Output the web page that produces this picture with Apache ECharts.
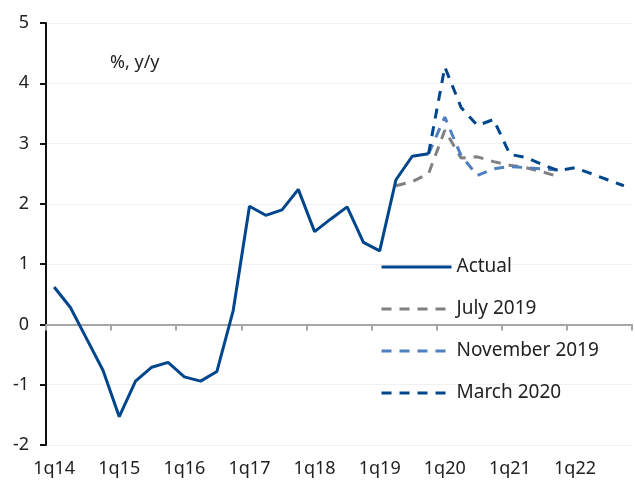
<!DOCTYPE html>
<html>
<head>
    <meta charset="UTF-8">
    <title>%, y/y</title>
    <style>
        html, body {
            margin: 0;
            padding: 0;
            width: 100%;
            height: 100%;
            overflow: hidden;
            background: #fff;
        }
        #main {
            width: 635px;
            height: 481px;
        }
    </style>
    <script src="https://cdn.jsdelivr.net/npm/echarts@6/dist/echarts.min.js"></script>
</head>
<body>
    <div id="main"></div>
    <script>
        // quarters 1q14 .. 4q22
        const quarters = [];
        for (let y = 14; y <= 22; y++) {
            for (let q = 1; q <= 4; q++) quarters.push(q + 'q' + y);
        }

        // null = no value for that quarter
        const actual = [0.62, 0.28, -0.24, -0.76, -1.53, -0.94, -0.71, -0.63, -0.87, -0.94, -0.78, 0.23,
            1.96, 1.81, 1.90, 2.24, 1.54, 1.75, 1.95, 1.36, 1.22, 2.40, 2.79, 2.83,
            null, null, null, null, null, null, null, null, null, null, null, null];
        const july2019 = [null, null, null, null, null, null, null, null, null, null, null, null,
            null, null, null, null, null, null, null, null, null, 2.30, 2.37, 2.50,
            3.22, 2.76, 2.78, 2.70, 2.64, 2.60, 2.53, 2.45, null, null, null, null];
        const nov2019 = [null, null, null, null, null, null, null, null, null, null, null, null,
            null, null, null, null, null, null, null, null, null, null, null, 2.83,
            3.44, 2.80, 2.47, 2.58, 2.62, 2.60, 2.58, 2.56, null, null, null, null];
        const mar2020 = [null, null, null, null, null, null, null, null, null, null, null, null,
            null, null, null, null, null, null, null, null, null, null, null, 2.83,
            4.27, 3.60, 3.30, 3.40, 2.82, 2.77, 2.65, 2.55, 2.60, 2.50, 2.40, 2.30];

        const font = 'Noto Sans';
        const textColor = '#222';

        const chart = echarts.init(document.getElementById('main'));

        function lineSeries(name, data, color, dashed) {
            return {
                name: name,
                type: 'line',
                data: data,
                xAxisIndex: 0,
                symbol: 'none',
                connectNulls: false,
                lineStyle: { color: color, width: 3, type: dashed ? [10, 8] : 'solid' },
                itemStyle: { color: color },
                z: dashed ? 3 : 4
            };
        }

        chart.setOption({
            animation: false,
            textStyle: { fontFamily: font },
            grid: { left: 46, right: 3, top: 23, bottom: 36 },
            title: {
                text: '%, y/y',
                left: 105,
                top: 49,
                textStyle: { fontFamily: font, fontSize: 18, fontWeight: 'normal', color: textColor }
            },
            legend: {
                orient: 'vertical',
                left: 375,
                top: 252,
                itemWidth: 70,
                itemHeight: 20,
                itemGap: 22,
                itemStyle: { opacity: 0 },
                lineStyle: { width: 3 },
                textStyle: { fontFamily: font, fontSize: 19, color: textColor, lineHeight: 20 },
                data: ['Actual', 'July 2019', 'November 2019', 'March 2020']
            },
            xAxis: [
                {
                    type: 'category',
                    data: quarters,
                    boundaryGap: true,
                    axisLine: { show: false, onZero: false },
                    axisTick: { show: false },
                    axisLabel: {
                        interval: 3,
                        margin: 15,
                        fontFamily: font,
                        fontSize: 18,
                        color: textColor
                    },
                    splitLine: { show: false }
                },
                {
                    type: 'category',
                    data: quarters,
                    boundaryGap: true,
                    position: 'bottom',
                    axisLine: { show: true, onZero: true, lineStyle: { color: '#a6a6a6', width: 2 } },
                    axisTick: { show: true, interval: 3, length: 6, lineStyle: { color: '#a6a6a6', width: 2 } },
                    axisLabel: { show: false },
                    splitLine: { show: false }
                }
            ],
            yAxis: {
                type: 'value',
                min: -2,
                max: 5,
                interval: 1,
                axisLine: { show: true, lineStyle: { color: '#111', width: 2 } },
                axisTick: { show: true, length: 6, lineStyle: { color: '#111', width: 2 } },
                axisLabel: { margin: 17, fontFamily: font, fontSize: 18, color: textColor },
                splitLine: { show: true, lineStyle: { color: '#f2f2f2', width: 1 } }
            },
            series: [
                lineSeries('Actual', actual, '#00468c', false),
                lineSeries('July 2019', july2019, '#808080', true),
                lineSeries('November 2019', nov2019, '#4f7fc0', true),
                lineSeries('March 2020', mar2020, '#00468c', true)
            ]
        });
    </script>
</body>
</html>
